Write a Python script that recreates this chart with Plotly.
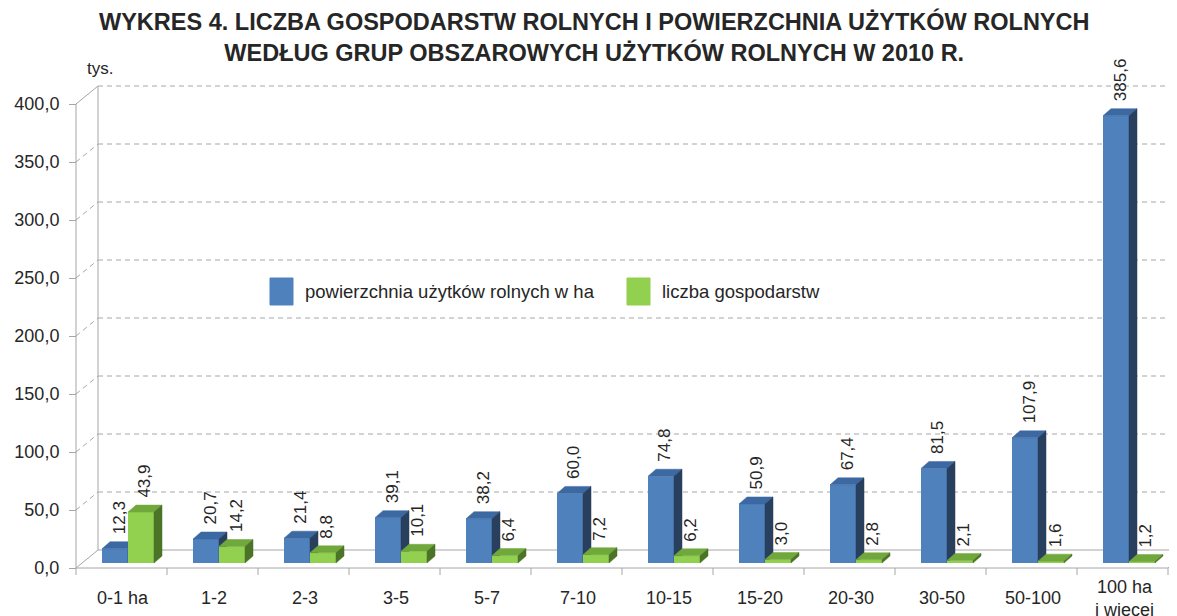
import plotly.graph_objects as go

# ---- data ----
categories = ["0-1 ha", "1-2", "2-3", "3-5", "5-7", "7-10", "10-15", "15-20",
              "20-30", "30-50", "50-100", "100 ha<br>i więcej"]
area = [12.3, 20.7, 21.4, 39.1, 38.2, 60.0, 74.8, 50.9, 67.4, 81.5, 107.9, 385.6]
farms = [43.9, 14.2, 8.8, 10.1, 6.4, 7.2, 6.2, 3.0, 2.8, 2.1, 1.6, 1.2]
y_ticks = [0, 50, 100, 150, 200, 250, 300, 350, 400]

AREA_NAME = "powierzchnia użytków rolnych w ha"
FARMS_NAME = "liczba gospodarstw"
TITLE = ("<b>WYKRES 4. LICZBA GOSPODARSTW ROLNYCH I POWIERZCHNIA UŻYTKÓW ROLNYCH<br>"
         "WEDŁUG GRUP OBSZAROWYCH UŻYTKÓW ROLNYCH W 2010 R.</b>")
UNIT = "tys."

# ---- geometry, in screen pixels (page body has an 8px margin) ----
SCREEN_W, SCREEN_H = 1177, 616
OFF = 8
W, H = SCREEN_W - OFF, SCREEN_H - OFF
PLOT_LEFT = 60        # screen column where the plot area starts
FRONT_PX = 76         # screen column of the front y axis
CAT_PX = 91           # pixels per category
VAL_PX = 1.16         # pixels per value unit
BASE_PX = 563         # screen row of bar bases

X_RANGE = [-0.5 - (FRONT_PX - PLOT_LEFT) / CAT_PX, -0.5 + (SCREEN_W - FRONT_PX) / CAT_PX]
Y_RANGE = [-(SCREEN_H - BASE_PX) / VAL_PX, (BASE_PX - OFF) / VAL_PX]
FRONT_V = -5 / VAL_PX          # front plane sits 5px below bar base
BACK_V = 13 / VAL_PX           # back wall sits 13px above bar base
Y2_RANGE = [Y_RANGE[0] - FRONT_V, Y_RANGE[1] - FRONT_V]
BACK_X = -0.5 + 22 / CAT_PX
X_END = len(categories) - 0.5

BAR_W = 26 / CAT_PX
DEPTH_X = 8 / CAT_PX
DEPTH_Y = 7 / VAL_PX
BLUE_OFF = -19.5 / CAT_PX
GREEN_OFF = BLUE_OFF + BAR_W

BLUE = ("#4F81BD", "#3D69A2", "#283F5E")
GREEN = ("#92D050", "#70A83C", "#4B7426")
GRID = "#A6A6A6"
TEXT = "#262626"
FONT = "Liberation Sans, Arial, sans-serif"


def px_x(p):
    return (p - PLOT_LEFT) / (SCREEN_W - PLOT_LEFT)


def px_y(p):
    return 1 - (p - OFF) / H


def faces(values, off):
    tx, ty, sx, sy = [], [], [], []
    for i, v in enumerate(values):
        xl = i + off
        xr = xl + BAR_W
        tx += [xl, xr, xr + DEPTH_X, xl + DEPTH_X, xl, None]
        ty += [v, v, v + DEPTH_Y, v + DEPTH_Y, v, None]
        sx += [xr, xr, xr + DEPTH_X, xr + DEPTH_X, xr, None]
        sy += [0, v, v + DEPTH_Y, DEPTH_Y, 0, None]
    return tx, ty, sx, sy


def add_series(fig, values, off, colors, yaxis, name):
    fig.add_trace(go.Bar(x=list(range(len(values))), y=values, width=BAR_W, offset=off,
                         marker_color=colors[0], marker_line_width=0, name=name,
                         showlegend=False, xaxis="x", yaxis=yaxis))
    tx, ty, sx, sy = faces(values, off)
    for xs, ys, c in ((tx, ty, colors[1]), (sx, sy, colors[2])):
        fig.add_trace(go.Scatter(x=xs, y=ys, mode="lines", fill="toself", fillcolor=c,
                                 line=dict(color=c, width=0.5), hoverinfo="skip",
                                 showlegend=False, xaxis="x", yaxis=yaxis))


fig = go.Figure()
add_series(fig, area, BLUE_OFF, BLUE, "y", AREA_NAME)
add_series(fig, farms, GREEN_OFF, GREEN, "y3", FARMS_NAME)

# category separator ticks on the front floor (front scale)
tick_x, tick_y = [], []
for k in range(len(categories) + 1):
    tick_x += [k - 0.5, k - 0.5, None]
    tick_y += [0, -7 / VAL_PX, None]
fig.add_trace(go.Scatter(x=tick_x, y=tick_y, mode="lines", line=dict(color=GRID, width=1),
                         hoverinfo="skip", showlegend=False, xaxis="x", yaxis="y2"))

# ---- 3D frame ----
shapes = []


def seg(x0, y0, x1, y1, dash="solid"):
    shapes.append(dict(type="line", xref="x", yref="y", x0=x0, y0=y0, x1=x1, y1=y1,
                       layer="below", line=dict(color=GRID, width=1, dash=dash)))


for t in y_ticks:
    edge = t in (y_ticks[0], y_ticks[-1])
    seg(BACK_X, t + BACK_V, X_RANGE[1], t + BACK_V, "solid" if t == 0 else "5px,4px")
    seg(-0.5, t + FRONT_V, BACK_X, t + BACK_V, "solid" if edge else "5px,4px")
seg(BACK_X, BACK_V, BACK_X, y_ticks[-1] + BACK_V)
seg(-0.5, FRONT_V, -0.5, y_ticks[-1] + FRONT_V)
seg(-0.5, FRONT_V, X_END, FRONT_V)
seg(X_END, FRONT_V, X_END + 22 / CAT_PX, BACK_V)

# ---- legend (drawn by hand: big swatches) ----
annotations = []
for (x0, name, c) in ((270, AREA_NAME, BLUE), (627, FARMS_NAME, GREEN)):
    shapes.append(dict(type="rect", xref="paper", yref="paper", x0=px_x(x0), x1=px_x(x0 + 23),
                       y0=px_y(305), y1=px_y(278), fillcolor=c[0],
                       line=dict(color=c[0], width=1)))
    annotations.append(dict(xref="paper", yref="paper", x=px_x(x0 + 33), y=px_y(291),
                            xanchor="left", yanchor="middle", text=name, showarrow=False,
                            font=dict(size=18.5, color=TEXT)))

# value labels
for values, off in ((area, BLUE_OFF), (farms, GREEN_OFF)):
    for i, v in enumerate(values):
        annotations.append(dict(xref="x", yref="y", x=i + off + BAR_W / 2 + DEPTH_X / 2,
                                y=v + DEPTH_Y, xanchor="center", yanchor="bottom", yshift=5,
                                textangle=-90, showarrow=False,
                                text=f"{v:.1f}".replace(".", ","),
                                font=dict(size=17, color=TEXT)))

# category labels
for i, c in enumerate(categories):
    annotations.append(dict(xref="x", yref="y", x=i + 0.02, y=(BASE_PX - 598) / VAL_PX,
                            xanchor="center", yanchor="middle", text=c, showarrow=False,
                            font=dict(size=18, color=TEXT)))

annotations.append(dict(xref="paper", yref="paper", x=px_x(85), y=px_y(69), xanchor="left",
                        yanchor="middle", text=UNIT, showarrow=False,
                        font=dict(size=17, color=TEXT)))

# title
annotations.append(dict(xref="paper", yref="paper", x=px_x(594), y=px_y(6), xanchor="center",
                        yanchor="top", text=TITLE, showarrow=False, align="center",
                        font=dict(size=23.5, color=TEXT)))

fig.update_layout(
    width=W, height=H,
    margin=dict(l=PLOT_LEFT - OFF, r=0, t=0, b=0),
    paper_bgcolor="white", plot_bgcolor="white",
    font=dict(family=FONT, color=TEXT),
    separators=", ",
    barmode="overlay",
    hovermode=False,
    showlegend=False,
    xaxis=dict(range=X_RANGE, visible=False),
    yaxis=dict(range=Y_RANGE, visible=False),
    yaxis3=dict(range=Y_RANGE, overlaying="y", visible=False),
    yaxis2=dict(range=Y2_RANGE, overlaying="y", anchor="free", position=px_x(FRONT_PX),
                side="left", tickvals=y_ticks, tickformat=".1f", ticks="outside",
                ticklen=7, tickcolor=GRID, showgrid=False, zeroline=False, showline=False,
                ticklabelstandoff=6, tickfont=dict(size=18, color=TEXT)),
    shapes=shapes,
    annotations=annotations,
)

fig.write_html("out.html")
